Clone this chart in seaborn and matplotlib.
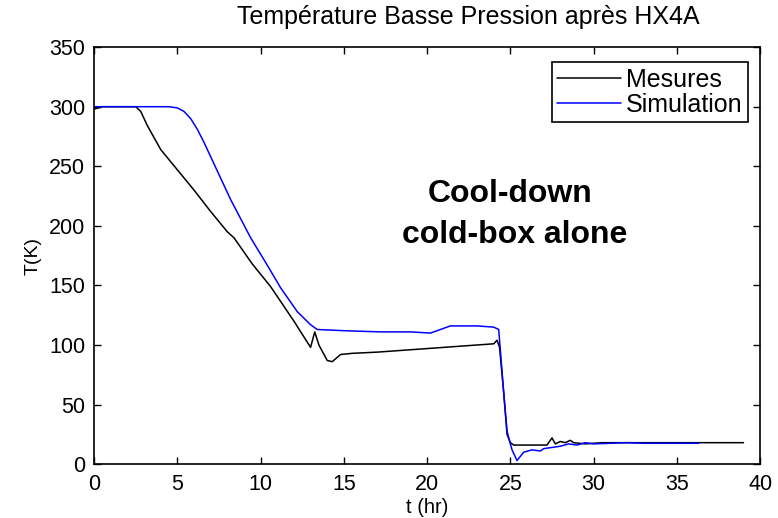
import matplotlib
matplotlib.use("Agg")
import matplotlib.pyplot as plt
import seaborn as sns
import pandas as pd

# ---- data ----
mes_t = [0, 0.5, 2.5, 2.8, 3.2, 3.6, 4.0, 5.0, 6.0, 7.0, 8.0, 8.4, 9.5, 10.6,
         12.0, 13.0, 13.25, 13.5, 14.0, 14.3, 14.8, 15.5, 17.0, 20.0, 24.0,
         24.2, 24.35, 24.6, 24.8, 25.0, 25.2, 26.0, 27.2, 27.5, 27.7, 28.0,
         28.3, 28.6, 28.8, 29.5, 30.5, 32.0, 35.0, 39.0]
mes_T = [298, 300, 300, 296, 284, 274, 264, 247, 230, 212, 195, 190, 168, 149,
         120, 98, 111, 100, 87, 86, 92, 93, 94, 97, 101,
         104, 98, 60, 25, 18, 16, 16, 16, 22, 17, 19,
         18, 20, 18, 17, 18, 18, 18, 18]

sim_t = [0, 2, 4.5, 5.0, 5.4, 5.8, 6.2, 6.6, 7.4, 8.2, 9.4, 10.4, 11.2, 12.2,
         13.0, 13.4, 15.0, 17.2, 19.0, 20.2, 20.8, 21.4, 23.0, 24.0, 24.3,
         24.6, 24.8, 24.9, 25.1, 25.4, 25.8, 26.3, 26.8, 27.0, 27.5, 28.0,
         28.5, 29.0, 29.5, 30.0, 31.0, 32.0, 33.0, 36.3]
sim_T = [300, 300, 300, 299, 296, 290, 281, 270, 246, 222, 190, 167, 148, 128,
         117, 113, 112, 111, 111, 110, 113, 116, 116, 115, 113,
         60, 28, 22, 12, 3, 10, 12, 11, 13, 14, 15,
         17, 16, 18, 17, 17.5, 18, 17.5, 17.5]

title = "Température Basse Pression après HX4A"
xlabel = "t (hr)"
ylabel = "T(K)"
annot1 = "Cool-down"
annot2 = "cold-box alone"
xticks = [0, 5, 10, 15, 20, 25, 30, 35, 40]
yticks = [0, 50, 100, 150, 200, 250, 300, 350]

# ---- plot ----
sns.set_style("white")
plt.rcParams['font.family'] = ['Liberation Sans', 'DejaVu Sans']
plt.rcParams['text.color'] = 'black'
plt.rcParams['axes.labelcolor'] = 'black'
plt.rcParams['xtick.color'] = 'black'
plt.rcParams['ytick.color'] = 'black'

fig = plt.figure(figsize=(7.78, 5.18), dpi=100)
ax = fig.add_axes([0.121, 0.104, 0.856, 0.805])

df_m = pd.DataFrame({"t": mes_t, "T": mes_T})
df_s = pd.DataFrame({"t": sim_t, "T": sim_T})
sns.lineplot(data=df_m, x="t", y="T", sort=False, color="black", lw=1.1,
             label="Mesures", ax=ax)
sns.lineplot(data=df_s, x="t", y="T", sort=False, color="#0000ff", lw=1.1,
             label="Simulation", ax=ax)

ax.set_xlim(0, 40)
ax.set_ylim(0, 350)
ax.set_xticks(xticks)
ax.set_yticks(yticks)
ax.tick_params(direction="in", length=5, width=1, labelsize=15.5, top=True,
               right=True, bottom=True, left=True)
ax.tick_params(axis="x", pad=7)
ax.tick_params(axis="y", pad=6.5)
for s in ax.spines.values():
    s.set_visible(True)
    s.set_color("black")
    s.set_linewidth(1.2)

ax.set_xlabel(xlabel, fontsize=14.5, labelpad=2)
ax.set_ylabel(ylabel, fontsize=14, labelpad=5)
fig.text(0.602, 0.968, title, ha="center", va="center", fontsize=18)

ax.text(0.625, 0.648, annot1, transform=ax.transAxes, ha="center",
        va="center", fontsize=23, fontweight="bold")
ax.text(0.631, 0.550, annot2, transform=ax.transAxes, ha="center",
        va="center", fontsize=23, fontweight="bold")

leg = ax.legend(loc="upper right", bbox_to_anchor=(1 - 12 / 666, 1 - 15 / 417),
                fontsize=18, frameon=True, fancybox=False,
                edgecolor="black", framealpha=1, borderpad=0.22,
                labelspacing=0.05, handlelength=2.55, handletextpad=0.2,
                borderaxespad=0.0)
leg.get_frame().set_linewidth(1.2)

fig.savefig("out.png", dpi=100)
